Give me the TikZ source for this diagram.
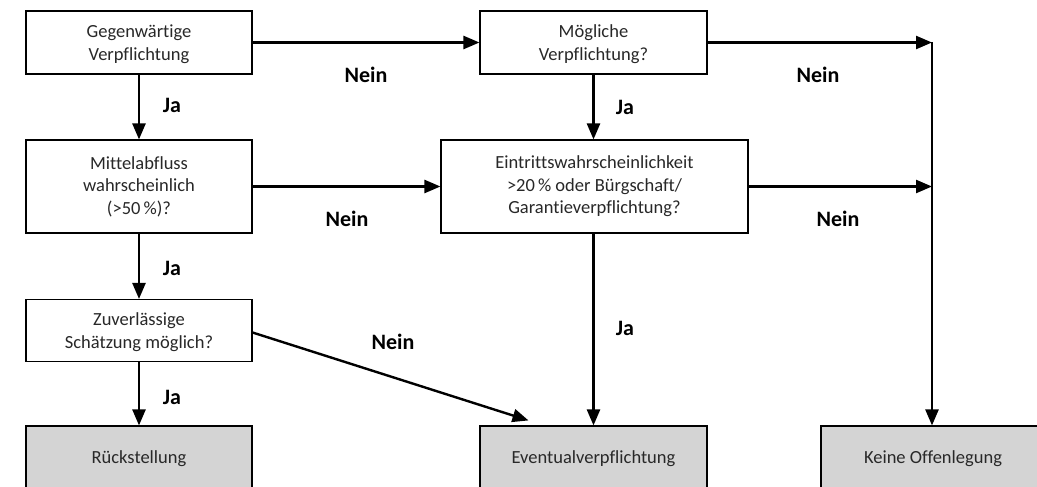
\documentclass[tikz,border=0pt]{standalone}
\usepackage{fontspec}
\setmainfont{Carlito}[Ligatures=NoCommon]
\usetikzlibrary{arrows.meta}
\definecolor{endgray}{RGB}{212,212,212}
\definecolor{boxtext}{RGB}{40,40,40}
\begin{document}
\begin{tikzpicture}[x=1pt,y=-1pt,
  box/.style={draw, line width=1.1pt, fill=white, minimum width=226pt, align=center,
    text=boxtext, font=\fontsize{18.5}{22.5}\selectfont, inner sep=0pt},
  flat/.style={text depth=0pt},
  endbox/.style={box, flat, fill=endgray},
  arr/.style={line width=2.4pt, -{Triangle[length=16pt,width=13pt]}},
  plain/.style={line width=2.4pt},
  lbl/.style={font=\fontsize{22}{24}\selectfont\bfseries}]
\useasboundingbox (0,0) rectangle (1037,487);
\clip (0,0) rectangle (1037,487);

\node[box, flat, minimum height=63pt] (A) at (139,42.5) {Gegenwärtige\\Verpflichtung};
\node[box, flat, minimum width=227pt, minimum height=63pt] (B) at (593.5,42.5) {Mögliche\\Verpflichtung?};
\node[box, minimum height=93pt] (C) at (139,186.5) {Mittelabfluss\\wahrscheinlich\\(>50\,\%)?};
\node[box, minimum width=307pt, minimum height=93pt] (D) at (594.5,186.5) {Eintrittswahrscheinlichkeit\\>20\,\% oder Bürgschaft/\\Garantieverpflichtung?};
\node[box, flat, minimum height=62pt] (E) at (139,330.5) {Zuverlässige\\Schätzung möglich?};
\node[endbox, minimum height=63pt] (F) at (139,457.5) {Rückstellung};
\node[endbox, minimum width=227pt, minimum height=63pt] (G) at (593.5,457.5) {Eventualverpflichtung};
\node[endbox, minimum width=224pt, minimum height=63pt] (H) at (933,457.5) {Keine Offenlegung};

\coordinate (J1) at (932,42.5);
\coordinate (J2) at (932,186.5);

\draw[arr] (A) -- (B);
\draw[arr] (A) -- (C);
\draw[arr] (C) -- (E);
\draw[arr] (E) -- (F);
\draw[arr] (C.east) -- (C.east -| D.west);
\draw[arr] (B) -- (B |- D.north);
\draw[arr] (B.east) -- (J1);
\draw[arr] (D.east) -- (J2);
\draw[plain] (J1) -- (J2);
\draw[arr] (J2) -- (J2 |- H.north);
\draw[arr] (D.south -| B) -- (B |- G.north);
\draw[arr] ([yshift=-2pt]E.east) -- ([xshift=-65pt,yshift=5pt]G.north);

\node[lbl] (n1) at (366,75) {Nein};
\node[lbl] (j1) at (172,105) {Ja};
\node[lbl] (n2) at (818,75) {Nein};
\node[lbl] (j2) at (625,107) {Ja};
\node[lbl] (n3) at (347,219) {Nein};
\node[lbl] (n4) at (838,219) {Nein};
\node[lbl] (j3) at (172,268) {Ja};
\node[lbl] (n5) at (393,342) {Nein};
\node[lbl] (j4) at (625,328) {Ja};
\node[lbl] (j5) at (172,397) {Ja};
\end{tikzpicture}
\end{document}
